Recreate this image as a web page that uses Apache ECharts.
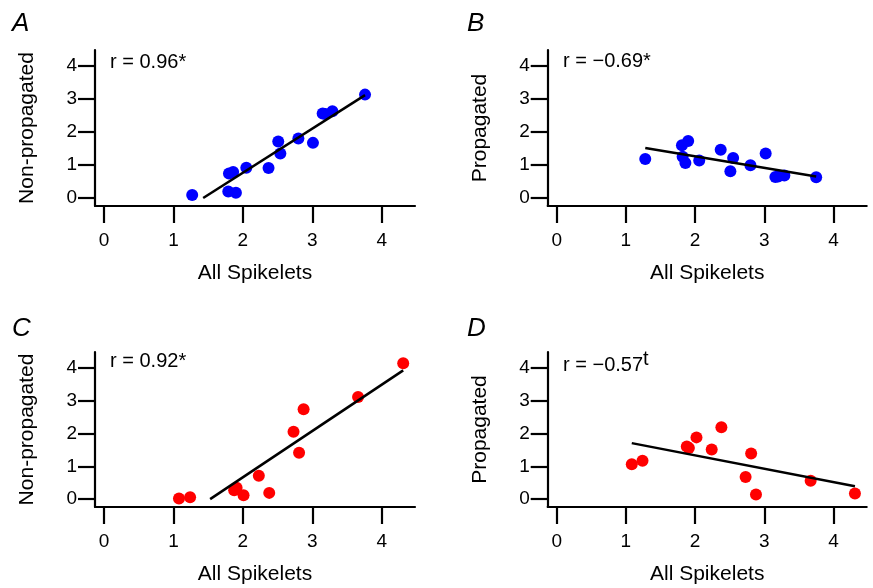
<!DOCTYPE html>
<html>
<head>
<meta charset="utf-8">
<script src="https://cdn.jsdelivr.net/npm/echarts@6.0.0/dist/echarts.min.js"></script>
<style>
  html, body { margin: 0; padding: 0; background: #fff; }
  #chart { width: 873px; height: 588px; }
</style>
</head>
<body>
<div id="chart"></div>
<script>
// values: x = all spikelets, y = non-propagated / propagated
const aX = [1.27, 1.79, 1.80, 1.86, 1.90, 2.05, 2.37, 2.51, 2.54, 2.80, 3.01, 3.15, 3.19, 3.29, 3.76]
const aY = [0.09, 0.20, 0.74, 0.79, 0.16, 0.92, 0.91, 1.71, 1.35, 1.80, 1.67, 2.56, 2.54, 2.63, 3.13]
const bX = [1.28, 1.81, 1.82, 1.86, 1.90, 2.06, 2.37, 2.51, 2.55, 2.80, 3.02, 3.16, 3.20, 3.29, 3.75]
const bY = [1.18, 1.60, 1.25, 1.06, 1.73, 1.14, 1.46, 0.81, 1.21, 0.99, 1.35, 0.64, 0.65, 0.68, 0.63]
const cX = [1.08, 1.24, 1.875, 1.91, 2.01, 2.23, 2.38, 2.73, 2.81, 2.875, 3.66, 4.31]
const cY = [0.02, 0.06, 0.27, 0.35, 0.12, 0.71, 0.19, 2.05, 1.41, 2.74, 3.11, 4.14]
const dX = [1.085, 1.24, 1.88, 1.91, 2.02, 2.24, 2.38, 2.73, 2.81, 2.88, 3.67, 4.31]
const dY = [1.06, 1.17, 1.60, 1.56, 1.88, 1.51, 2.19, 0.67, 1.39, 0.14, 0.56, 0.17]

const tickValues = [0, 1, 2, 3, 4]
const panelLetters = ['A', 'B', 'C', 'D']
const yNames = ['Non-propagated', 'Propagated', 'Non-propagated', 'Propagated']
const xName = 'All Spikelets'
const rTexts = ['r = 0.96*', 'r = \u22120.69*', 'r = 0.92*', 'r = \u22120.57']
const rSup = ['', '', '', 't']

const panels = [
  { x: aX, y: aY, color: '#0000ff' },
  { x: bX, y: bY, color: '#0000ff' },
  { x: cX, y: cY, color: '#ff0000' },
  { x: dX, y: dY, color: '#ff0000' }
]

const FONT = '"Liberation Sans", Arial, Helvetica, sans-serif'

// least squares fit, drawn over the data range and cut at y = 0
const fitLine = (xs, ys) => {
  const n = xs.length
  const mx = xs.reduce((s, v) => s + v, 0) / n
  const my = ys.reduce((s, v) => s + v, 0) / n
  let sxx = 0, sxy = 0
  xs.forEach((v, i) => { sxx += (v - mx) ** 2; sxy += (v - mx) * (ys[i] - my) })
  const k = sxy / sxx
  const b = my - k * mx
  let x0 = Math.min(...xs)
  let x1 = Math.max(...xs)
  if (k * x0 + b < 0) x0 = -b / k
  if (k * x1 + b < 0) x1 = -b / k
  return [[x0, k * x0 + b], [x1, k * x1 + b]]
}

const grids = [
  { left: 95, top: 50, width: 320, height: 156 },
  { left: 547.7, top: 50, width: 319, height: 156 },
  { left: 95, top: 352, width: 320, height: 155 },
  { left: 547.7, top: 352, width: 319, height: 155 }
]

const axisCommon = {
  type: 'value',
  axisLine: { show: true, onZero: false, lineStyle: { color: '#000', width: 2.2 } },
  axisTick: { show: true, inside: false, length: 17, customValues: tickValues, lineStyle: { color: '#000', width: 2.2 } },
  splitLine: { show: false },
  nameLocation: 'middle',
  nameGap: 57,
  nameTextStyle: { fontSize: 21, color: '#000', fontFamily: FONT }
}

const chart = echarts.init(document.getElementById('chart'), null, { renderer: 'canvas' })

const option = {
  animation: false,
  backgroundColor: '#fff',
  grid: grids,
  xAxis: grids.map((g, i) => ({
    ...axisCommon,
    gridIndex: i,
    min: -0.13,
    max: 4.48,
    name: xName,
    axisLabel: { customValues: tickValues, margin: 25, fontSize: 19, color: '#000', fontFamily: FONT }
  })),
  yAxis: grids.map((g, i) => ({
    ...axisCommon,
    gridIndex: i,
    min: -0.24,
    max: 4.48,
    name: yNames[i],
    axisLabel: { customValues: tickValues, margin: 18, fontSize: 19, color: '#000', fontFamily: FONT }
  })),
  series: [
    ...panels.map((p, i) => ({
      type: 'scatter',
      xAxisIndex: i,
      yAxisIndex: i,
      symbol: 'circle',
      symbolSize: 12,
      itemStyle: { color: p.color, opacity: 1 },
      data: p.x.map((v, j) => [v, p.y[j]])
    })),
    ...panels.map((p, i) => ({
      type: 'line',
      xAxisIndex: i,
      yAxisIndex: i,
      symbol: 'none',
      lineStyle: { color: '#000', width: 2.5 },
      z: 3,
      data: fitLine(p.x, p.y)
    }))
  ],
  graphic: [
    ...panelLetters.map((t, i) => ({
      type: 'text',
      x: i % 2 ? 467 : 12,
      y: i < 2 ? 24 : 329,
      style: {
        text: t,
        font: 'italic 26px ' + FONT,
        fill: '#000',
        verticalAlign: 'middle'
      }
    })),
    ...rTexts.map((t, i) => ({
      type: 'text',
      x: i % 2 ? 563 : 110,
      y: [62.5, 61.7, 361, 365.5][i],
      style: {
        text: rSup[i] ? '{m|' + t + '}{s|' + rSup[i] + '}' : t,
        font: '20px ' + FONT,
        fill: '#000',
        verticalAlign: 'middle',
        rich: {
          m: { fontSize: 20, fontFamily: FONT, lineHeight: 32, fill: '#000' },
          s: { fontSize: 20, fontFamily: FONT, lineHeight: 20, verticalAlign: 'top', fill: '#000' }
        }
      }
    }))
  ]
}

chart.setOption(option)
</script>
</body>
</html>
